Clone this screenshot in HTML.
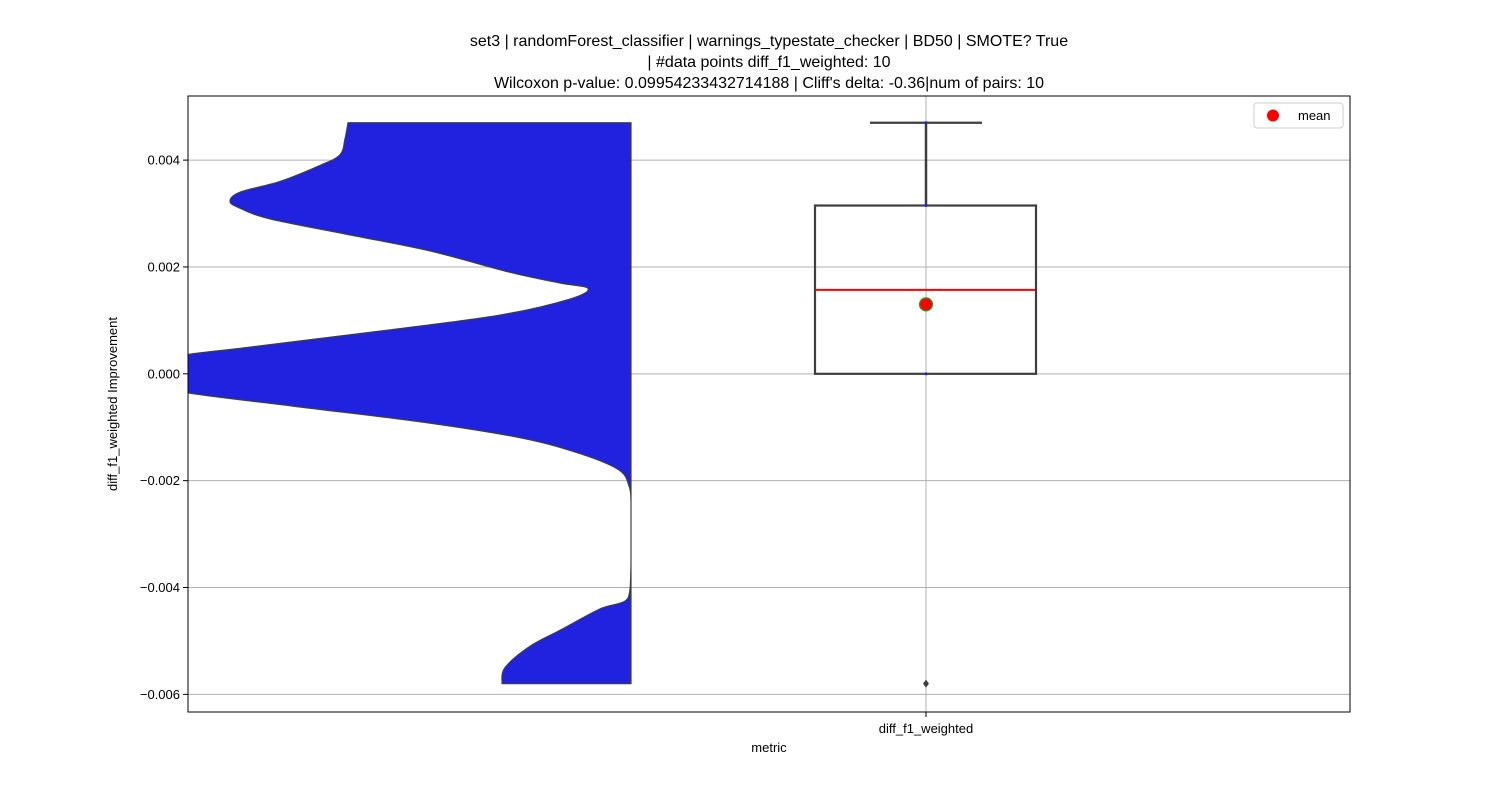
<!DOCTYPE html>
<html><head><meta charset="utf-8"><style>
body{margin:0;background:#fff;}
svg text{font-family:"Liberation Sans","DejaVu Sans",sans-serif;}
</style></head><body>
<svg id="chart" width="1500" height="800" xmlns="http://www.w3.org/2000/svg">
<defs><clipPath id="plotclip"><rect x="188" y="96" width="1162" height="616"/></clipPath></defs>
<rect x="0" y="0" width="1500" height="800" fill="#fff"/>
<g id="title" font-size="16" text-anchor="middle" fill="#000">
<text x="769" y="46">set3 | randomForest_classifier | warnings_typestate_checker | BD50 | SMOTE? True</text>
<text x="769" y="67">| #data points diff_f1_weighted: 10</text>
<text x="769" y="88">Wilcoxon p-value: 0.09954233432714188 | Cliff's delta: -0.36|num of pairs: 10</text>
</g>
<g id="grid"></g>
<g id="violin" clip-path="url(#plotclip)"></g>
<g id="box"></g>
<g id="yticks" font-size="13" text-anchor="end"></g>
<rect x="188" y="96" width="1162" height="616" fill="none" stroke="#000" stroke-width="1"/>
<text x="926" y="733" font-size="13" text-anchor="middle">diff_f1_weighted</text>
<text x="769" y="752" font-size="13" text-anchor="middle">metric</text>
<text x="0" y="0" font-size="13" text-anchor="middle" transform="translate(117,404) rotate(-90)">diff_f1_weighted Improvement</text>
<g>
<rect x="1254" y="103" width="89" height="25" rx="3" fill="#fff" stroke="#ccc"/>
<circle cx="1273" cy="115.5" r="6" fill="#ff0000"/>
<text x="1298" y="120" font-size="13">mean</text>
</g>
</svg>
<script>
const yTicks=[0.004,0.002,0,-0.002,-0.004,-0.006];
const yTickLabels=["0.004","0.002","0.000","\u22120.002","\u22120.004","\u22120.006"];
const violinValues=[0.0047,0.0044,0.0041,0.0039,0.0036,0.0034,0.00323,0.0031,0.0029,0.0026,0.0023,0.0019,0.0017,0.0016,0.0014,0.0011,0.0008,0.0005,0.0003,0.0,-0.0003,-0.0006,-0.0009,-0.0012,-0.0015,-0.0018,-0.0021,-0.0024,-0.003,-0.0036,-0.0042,-0.0044,-0.0048,-0.0051,-0.0055,-0.0058];
const violinWidths=[283,286,291,311,351,391,401,391,361,281,201,121,71,43,61,131,251,381,460,480,460,340,210,110,50,12,2,0,0,0,3,31,71,101,126,129];
const boxQ1=0, boxMedian=0.00157, boxQ3=0.00315, whiskerHigh=0.0047, whiskerLow=0.0;
const meanValue=0.0013;
const outliers=[-0.0058];
const points=[0.0047,0.00315,0.0];
const yMin=-0.00633, yMax=0.0052;
const plotTop=96, plotBottom=712;
function y(v){return plotTop+(yMax-v)/(yMax-yMin)*(plotBottom-plotTop);}
const NS="http://www.w3.org/2000/svg";
function el(tag,attrs,parent){const e=document.createElementNS(NS,tag);for(const k in attrs)e.setAttribute(k,attrs[k]);parent.appendChild(e);return e;}
const grid=document.getElementById('grid'), yt=document.getElementById('yticks');
yTicks.forEach((t,i)=>{
 const g=el('line',{x1:188,x2:1350,y1:y(t),y2:y(t),stroke:'#b0b0b0','stroke-width':1},grid);
 
 
 const tk=el('line',{x1:183,x2:188,y1:y(t),y2:y(t),stroke:'#000'},yt);
 
 
 const tx=el('text',{x:180,y:y(t)+4.5},yt);tx.textContent=yTickLabels[i];
 
 
});
const vg=el('line',{x1:926,x2:926,y1:96,y2:712,stroke:'#b0b0b0'},grid);


el('line',{x1:926,x2:926,y1:712,y2:717,stroke:'#000'},grid);
const cx=631;
const pts=violinValues.map((v,i)=>[cx-violinWidths[i],y(v)]);
let d='M'+cx+','+pts[0][1]+' L'+pts[0][0]+','+pts[0][1];
for(let i=0;i<pts.length-1;i++){
 const p0=pts[Math.max(0,i-1)],p1=pts[i],p2=pts[i+1],p3=pts[Math.min(pts.length-1,i+2)];
 const c1=[p1[0]+(p2[0]-p0[0])/6,p1[1]+(p2[1]-p0[1])/6];
 const c2=[p2[0]-(p3[0]-p1[0])/6,p2[1]-(p3[1]-p1[1])/6];
 d+=` C${Math.min(cx,c1[0])},${c1[1]} ${Math.min(cx,c2[0])},${c2[1]} ${p2[0]},${p2[1]}`;
}
d+=' L'+cx+','+pts[pts.length-1][1]+' Z';
const vp=el('path',{d:d,fill:'#2121e0',stroke:'#3f3f3f','stroke-width':1.2,'stroke-linejoin':'round'},document.getElementById('violin'));


const bx=document.getElementById('box');
const bl=815,br=1036,bc=926;
const w1=el('line',{x1:bc,x2:bc,y1:y(boxQ3),y2:y(whiskerHigh),stroke:'#3f3f3f','stroke-width':2.5},bx);


const cap=el('line',{x1:870,x2:982,y1:y(whiskerHigh),y2:y(whiskerHigh),stroke:'#3f3f3f','stroke-width':2.2},bx);


const rect=el('rect',{x:bl,y:y(boxQ3),width:br-bl,height:y(boxQ1)-y(boxQ3),fill:'none',stroke:'#3f3f3f','stroke-width':2.2},bx);


const med=el('line',{x1:bl+1,x2:br-1,y1:y(boxMedian),y2:y(boxMedian),stroke:'#ff0000','stroke-width':2},bx);


points.forEach(p=>{const c=el('circle',{cx:bc,cy:y(p),r:1.5,fill:'#2121e0'},bx);
 
 });
outliers.forEach(o=>{const c=el('path',{d:`M${bc},${y(o)-4} L${bc+3},${y(o)} L${bc},${y(o)+4} L${bc-3},${y(o)} Z`,fill:'#3f3f3f'},bx);
 
 });
const m=el('circle',{cx:bc,cy:y(meanValue),r:6.5,fill:'#ff0000',stroke:'#2a9a2a','stroke-width':1.2},bx);


</script>
</body></html>
